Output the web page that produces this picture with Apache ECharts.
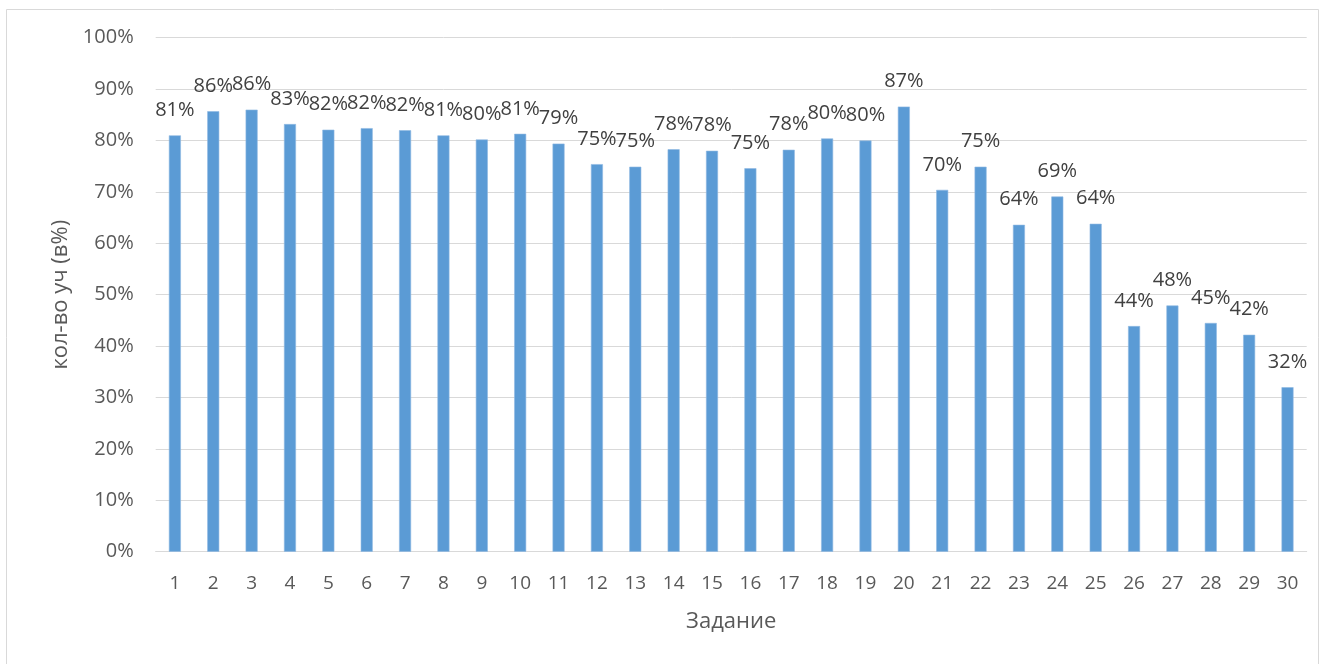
<!DOCTYPE html>
<html>
<head>
<meta charset="utf-8">
<script src="https://cdn.jsdelivr.net/npm/echarts@6/dist/echarts.min.js"></script>
<style>
html,body{margin:0;padding:0;background:#fff;}
#chart{width:1325px;height:664px;}
</style>
</head>
<body>
<div id="chart"></div>
<script>
const categories = ['1','2','3','4','5','6','7','8','9','10','11','12','13','14','15','16','17','18','19','20','21','22','23','24','25','26','27','28','29','30'];
const values = [81.0,85.7,86.0,83.2,82.1,82.4,82.0,81.0,80.2,81.3,79.4,75.4,74.9,78.3,78.0,74.6,78.2,80.4,80.0,86.6,70.4,74.9,63.6,69.1,63.8,43.9,47.9,44.5,42.2,32.0];
const yTicks = [0,10,20,30,40,50,60,70,80,90,100];
const xTitle = 'Задание';
const yTitle = 'кол-во уч (в%)';

const FONT = '"Open Sans", "Noto Sans", sans-serif';
const TXT = '#595959';
const chart = echarts.init(document.getElementById('chart'), null, {renderer:'canvas'});
chart.setOption({
  animation:false,
  backgroundColor:'#fff',
  graphic:[{
    type:'rect', silent:true,
    shape:{x:6.5,y:9.5,width:1312,height:700},
    style:{fill:'none',stroke:'#d9d9d9',lineWidth:1}
  }],
  grid:{left:155.7,right:18.3,top:37.7,bottom:112.3,containLabel:false},
  xAxis:{
    type:'category',
    data:categories,
    name:xTitle,
    nameLocation:'middle',
    nameGap:59,
    nameTextStyle:{fontFamily:FONT,fontSize:22,color:TXT},
    axisLine:{show:true,lineStyle:{color:'#d9d9d9',width:1}},
    axisTick:{show:false},
    axisLabel:{fontFamily:FONT,fontSize:19,color:TXT,margin:22}
  },
  yAxis:{
    type:'value',
    min:yTicks[0],
    max:yTicks[yTicks.length-1],
    interval:10,
    name:yTitle,
    nameLocation:'middle',
    nameGap:84,
    nameRotate:90,
    nameTextStyle:{fontFamily:FONT,fontSize:22,color:TXT},
    axisLine:{show:false},
    axisTick:{show:false},
    splitLine:{lineStyle:{color:'#d9d9d9',width:1}},
    axisLabel:{fontFamily:FONT,fontSize:20,color:TXT,margin:22,formatter:v=>v+'%'}
  },
  series:[{
    type:'bar',
    data:values,
    barWidth:12,
    itemStyle:{color:'#5B9BD5',borderColor:'#8fb9e2',borderWidth:0.6},
    label:{
      show:true,position:'top',distance:15,
      fontFamily:FONT,fontSize:20,lineHeight:20,color:'#404040',
      formatter:p=>Math.round(p.value)+'%'
    }
  }]
});
</script>
</body>
</html>
